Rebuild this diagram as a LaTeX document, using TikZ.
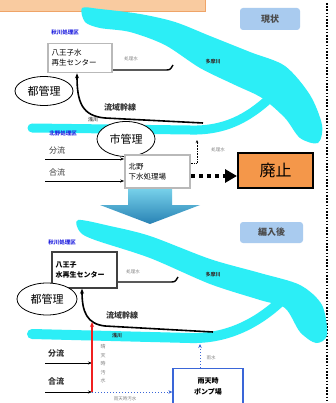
\documentclass[tikz,border=0pt]{standalone}
\usepackage{fontspec}
\setmainfont{Noto Sans CJK JP}
\usetikzlibrary{arrows.meta,shapes.geometric,calc}
\definecolor{river}{HTML}{2CEEF6}
\definecolor{lblblue}{HTML}{A9CBEF}
\definecolor{orfill}{HTML}{F4974A}
\definecolor{barfill}{HTML}{F9CBA0}
\definecolor{bardraw}{HTML}{EFA468}
\definecolor{areablue}{HTML}{2424E0}
\definecolor{pumpblue}{HTML}{3A66D8}
\definecolor{redarr}{HTML}{F02020}
\begin{document}
\begin{tikzpicture}[x=1pt,y=-1pt,
  mgmt/.style={ellipse, draw, line width=0.8pt, fill=white, inner sep=0pt, font=\fontsize{11}{12}\selectfont},
  grbox/.style={draw=gray!55, line width=1.6pt, fill=white, align=left, inner sep=3pt, font=\fontsize{7.5}{10}\selectfont},
  dkbox/.style={draw=black!75, line width=1.4pt, fill=white, align=left, inner sep=3pt, font=\fontsize{7}{10}\bfseries\selectfont},
  tinyg/.style={font=\fontsize{4.5}{5}\selectfont, text=gray, inner sep=0pt},
  tinyd/.style={font=\fontsize{5}{6}\bfseries\selectfont, text=black!80, inner sep=0pt},
  area/.style={font=\fontsize{5.5}{6}\bfseries\selectfont, text=areablue, inner sep=0pt},
  flow/.style={font=\fontsize{8}{9}\selectfont, text=black!80, inner sep=0pt},
  trunk/.style={line width=1.6pt, -{Stealth[length=5pt,width=4pt]}},
  feed/.style={line width=0.7pt, -{Stealth[length=4pt,width=3pt]}},
  phase/.style={rounded corners=3pt, fill=lblblue, font=\fontsize{9}{10}\bfseries\selectfont, text=black!70},
  bluedot/.style={pumpblue, line width=1pt, dotted, -{Stealth[length=4pt,width=3.5pt]}}
]
\useasboundingbox (0,0) rectangle (335,403);
\fill[white] (0,0) rectangle (335,403);

% top bar
\filldraw[fill=barfill, draw=bardraw, line width=0.8pt] (-2,-2) rectangle (205,11);

% right dotted line
\draw[line width=1.6pt, dash pattern=on 1.6pt off 1.6pt] (327,3) -- (327,403);

% ===== Panel 1 rivers =====
\fill[river] plot[smooth cycle, tension=0.5] coordinates {(82,8) (100,9) (140,14) (175,22) (210,36) (250,52) (285,66) (310,95) (322,125) (318,143) (300,138) (285,118) (262,98) (235,85) (200,68) (165,45) (130,32) (100,28) (85,22)};
\draw[river, line width=9pt, line cap=round] (32,128) -- (190,130) .. controls (225,131) and (248,118) .. (270,98);

% ===== Panel 2 rivers =====
\fill[river] plot[smooth cycle, tension=0.5] coordinates {(78,220) (110,226) (150,236) (210,259) (260,273) (300,285) (322,305) (327,335) (316,343) (300,332) (285,308) (260,300) (210,284) (150,258) (95,240) (80,232)};
\draw[river, line width=10pt, line cap=round] (32,334) -- (190,338) .. controls (225,339) and (255,325) .. (280,302);

% ===== Panel 1 =====
\node[phase, minimum width=60pt, minimum height=22pt] (now) at (270,19) {現状};
\node[area] (ak1) at (65,32) {秋川処理区};
\node[grbox, minimum width=64pt, minimum height=29pt, text width=57pt] (hc1) at (80,58) {八王子水\\再生センター};
\node[tinyg] (sw1) at (131,59) {処理水};
\coordinate (t1a) at (113,70);
\coordinate (t1b) at (173,65);
\draw[line width=1.4pt] (t1a) -- (165,70) .. controls (170,70) .. (t1b);
\node[tinyd] (tama1) at (213,62) {多摩川};
\node[mgmt, minimum width=58pt, minimum height=29pt] (tok1) at (44,91) {都管理};
\coordinate (tr1) at (203,123);
\draw[trunk] (tr1) -- (105,118) .. controls (82,116) and (77,102) .. (hc1.south -| 77,0);
\node[flow, font=\fontsize{8}{9}\bfseries\selectfont] (rl1) at (120,107) {流域幹線};
\node[tinyd, text=black!60] (asa1) at (93,120) {浅川};
\node[area] (kt) at (63,133) {北野処理区};
\node[mgmt, minimum width=58pt, minimum height=35pt] (shi) at (126,139) {市管理};
\node[flow] (bu1) at (57,150) {分流};
\node[flow] (go1) at (57,172) {合流};

% big arrow
\shade[top color={rgb,255:red,120;green,210;blue,235}, bottom color={rgb,255:red,40;green,130;blue,180}] (128,188) -- (172,188) -- (172,205) -- (200,205) -- (150,224) -- (100,205) -- (128,205) -- cycle;
\node[grbox, minimum width=65pt, minimum height=33pt, text width=58pt] (kit) at (157.5,171.5) {北野\\下水処理場};

\coordinate (b1s) at (45,159);
\coordinate (g1s) at (45,181);
\draw[feed] (b1s) -- (kit.west |- b1s);
\draw[feed] (g1s) -- (kit.west |- g1s);
\coordinate (k1a) at (197,140);
\draw[line width=0.6pt, densely dotted, -{Stealth[length=3pt,width=2.5pt]}] (kit.east |- 0,163) -- (197,163) -- (k1a);
\node[tinyg] (sw2) at (218,150) {処理水};
\node[draw, line width=2pt, fill=orfill, minimum width=75pt, minimum height=34pt, font=\fontsize{16}{17}\selectfont] (hai) at (275.5,170.5) {廃止};
\draw[line width=4pt, dash pattern=on 4pt off 4pt, -{Triangle[length=12pt,width=13pt]}] (kit.east |- 0,176) -- (hai.west |- 0,176);

% ===== Panel 2 =====
\node[phase, minimum width=63pt, minimum height=21pt] (aft) at (271.5,232.5) {編入後};
\node[area] (ak2) at (62,242) {秋川処理区};
\node[dkbox, minimum width=65pt, minimum height=36pt, text width=58pt] (hc2) at (84.5,270) {八王子\\水再生センター};
\node[tinyg] (sw3) at (133,272) {処理水};
\coordinate (t2a) at (118,282);
\coordinate (t2b) at (178,277);
\draw[line width=1.4pt] (t2a) -- (170,282) .. controls (175,282) .. (t2b);
\node[tinyd] (tama2) at (213,275) {多摩川};
\node[mgmt, minimum width=60pt, minimum height=32pt] (tok2) at (47,299) {都管理};
\coordinate (tr2) at (213,332);
\draw[trunk] (tr2) -- (105,326) .. controls (87,324) and (82,312) .. (hc2.south -| 82,0);
\node[flow, font=\fontsize{8}{9}\bfseries\selectfont] (rl2) at (122,315) {流域幹線};
\node[tinyd] (asa2) at (117,336) {浅川};
\node[tinyg, align=center, font=\fontsize{5}{8.5}\selectfont] (fair) at (103,364) {晴\\天\\時\\汚\\水};
\node[flow, font=\fontsize{8}{9}\bfseries\selectfont] (bu2) at (56,353) {分流};
\node[flow, font=\fontsize{8}{9}\bfseries\selectfont] (go2) at (56,381) {合流};
\coordinate (b2s) at (45,363);
\coordinate (g2s) at (45,392);
\coordinate (j2) at (92,392);
\coordinate (j2top) at (92,322);
\draw[feed] (b2s) -- (92,363);
\draw[feed] (g2s) -- (j2);
\draw[redarr, line width=1.3pt, -{Stealth[length=5pt,width=4pt]}] (j2) -- (j2top);
\node[draw=pumpblue, line width=1.3pt, fill=white, minimum width=70pt, minimum height=35pt, align=center, font=\fontsize{7}{11}\bfseries\selectfont] (pump) at (208,386) {雨天時\\ポンプ場};
\draw[bluedot] (j2) -- (pump.west |- j2);
\node[tinyg] (rain) at (125,399) {雨天時汚水};
\coordinate (pu) at (200,344);
\draw[bluedot] (pump.north -| pu) -- (pu);
\node[tinyg] (u) at (211,358) {雨水};
\end{tikzpicture}
\end{document}
